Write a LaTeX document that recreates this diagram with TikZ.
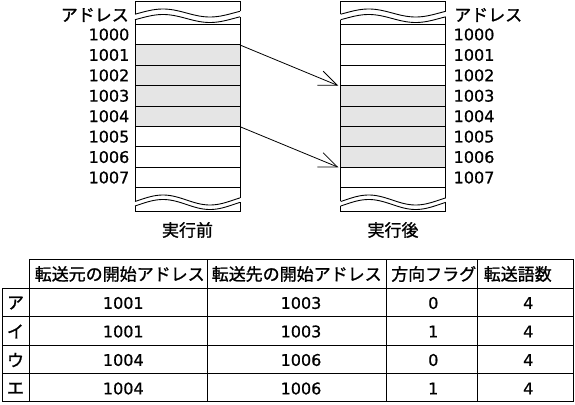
\documentclass[tikz,border=0pt]{standalone}
\usepackage{fontspec}
\newfontfamily\jpf[FakeBold=1.2]{Noto Sans CJK JP}
\newfontfamily\numf[FakeBold=0.8]{DejaVu Sans}
\usetikzlibrary{arrows.meta}
\tikzset{
  jp/.style={font=\jpf\fontsize{17}{17}\selectfont, inner sep=0pt},
  nm/.style={font=\numf\fontsize{16}{16}\selectfont, inner sep=0pt},
  ln/.style={line width=0.9pt, black},
  cellfill/.style={fill=black!10},
  movearrow/.style={line width=0.8pt, -{Straight Barb[length=18.5pt,width=15.3pt,line width=0.8pt]}},
  declare function={
    wu(\x)=13-4*sin((\x-4.5)*3.83);
    wl(\x)=18.5-4*sin((\x-4.5)*3.83);
    bu(\x)=200-5*sin((\x-4.5)*3.83);
    bl(\x)=204.5-5*sin((\x-4.5)*3.83);
  }
}
\newcommand\memcolumn[1]{%
  % rows
  \foreach \i in {0,...,7}{
    \pgfmathsetmacro\ytop{24.3+20.425*\i}
    \pgfmathsetmacro\ybot{24.3+20.425*(\i+1)}
    \ifnum\i<#1\relax\else\pgfmathtruncatemacro\lastsh{#1+3}\ifnum\i>\lastsh\relax\else
      \fill[cellfill] (0,\ytop) rectangle (105,\ybot);
    \fi\fi
    \draw[ln] (0,\ytop) -- (105,\ytop);
  }
  \draw[ln] (0,187.7) -- (105,187.7);
  \draw[ln] (0,24.3) -- (0,187.7) (105,24.3) -- (105,187.7);
  % top break
  \draw[ln] (0,{wu(0)}) -- (0,1) -- (105,1) -- (105,{wu(105)});
  \draw[ln] plot[domain=0:105,samples=60,smooth] (\x,{wu(\x)});
  \draw[ln] plot[domain=0:105,samples=60,smooth] (\x,{wl(\x)});
  \draw[ln] (0,{wl(0)}) -- (0,24.3) (105,{wl(105)}) -- (105,24.3);
  % bottom break
  \draw[ln] (0,187.7) -- (0,{bu(0)}) (105,187.7) -- (105,{bu(105)});
  \draw[ln] plot[domain=0:105,samples=60,smooth] (\x,{bu(\x)});
  \draw[ln] plot[domain=0:105,samples=60,smooth] (\x,{bl(\x)});
  \draw[ln] (0,{bl(0)}) -- (0,211.5) -- (105,211.5) -- (105,{bl(105)});
}
\begin{document}
\begin{tikzpicture}[x=1pt,y=-1pt]
\useasboundingbox (0,0) rectangle (575,404);
% memory columns
\begin{scope}[shift={(135,0)}]
  \memcolumn{1}
\end{scope}
\begin{scope}[shift={(340.7,0)}]
  \memcolumn{3}
\end{scope}
% address labels
\node[jp,anchor=east] (adrL) at (129,15) {アドレス};
\node[jp,anchor=west] (adrR) at (454,15) {アドレス};
\foreach \i in {0,...,7}{
  \pgfmathtruncatemacro\adr{1000+\i}
  \node[nm,anchor=east] (l\i) at (129.5,{24.3+20.425*(\i+0.5)}) {\adr};
  \node[nm,anchor=west] (r\i) at (453.5,{24.3+20.425*(\i+0.5)}) {\adr};
}
% captions
\node[jp] (before) at (187.5,230) {実行前};
\node[jp] (after) at (393,230) {実行後};
% arrows
\coordinate (srcA) at (240,45);
\coordinate (dstA) at (338.3,85.7);
\coordinate (srcB) at (240,126.7);
\coordinate (dstB) at (338.3,167.3);
\draw[movearrow] (srcA) -- (dstA);
\draw[movearrow] (srcB) -- (dstB);
% table grid
\draw[ln] (29,259) -- (573,259);
\foreach \y in {288.3,316.7,345.1,373.5,401.9}{
  \draw[ln] (2,\y) -- (573,\y);
}
\draw[ln] (2,288.3) -- (2,401.9);
\foreach \x in {29,207,386,477,573}{
  \draw[ln] (\x,259) -- (\x,401.9);
}
% header
\node[jp,anchor=west] (h1) at (34.5,274) {転送元の開始アドレス};
\node[jp,anchor=west] (h2) at (211.5,274) {転送先の開始アドレス};
\node[jp,anchor=west] (h3) at (391,274) {方向フラグ};
\node[jp,anchor=west] (h4) at (483.5,274) {転送語数};
% rows
\node[jp] (ka) at (15.5,303) {ア};
\node[jp] (ki) at (15.5,331.5) {イ};
\node[jp] (ku) at (15.5,360) {ウ};
\node[jp] (ke) at (15.5,388.5) {エ};
\node[nm] (a1) at (123.3,303) {1001};
\node[nm] (a2) at (301,303) {1003};
\node[nm] (a3) at (433.3,303) {0};
\node[nm] (a4) at (528.3,303) {4};
\node[nm] (b1) at (123.3,331.5) {1001};
\node[nm] (b2) at (301,331.5) {1003};
\node[nm] (b3) at (433.3,331.5) {1};
\node[nm] (b4) at (528.3,331.5) {4};
\node[nm] (c1) at (123.3,360) {1004};
\node[nm] (c2) at (301,360) {1006};
\node[nm] (c3) at (433.3,360) {0};
\node[nm] (c4) at (528.3,360) {4};
\node[nm] (d1) at (123.3,388.5) {1004};
\node[nm] (d2) at (301,388.5) {1006};
\node[nm] (d3) at (433.3,388.5) {1};
\node[nm] (d4) at (528.3,388.5) {4};
\end{tikzpicture}
\end{document}
